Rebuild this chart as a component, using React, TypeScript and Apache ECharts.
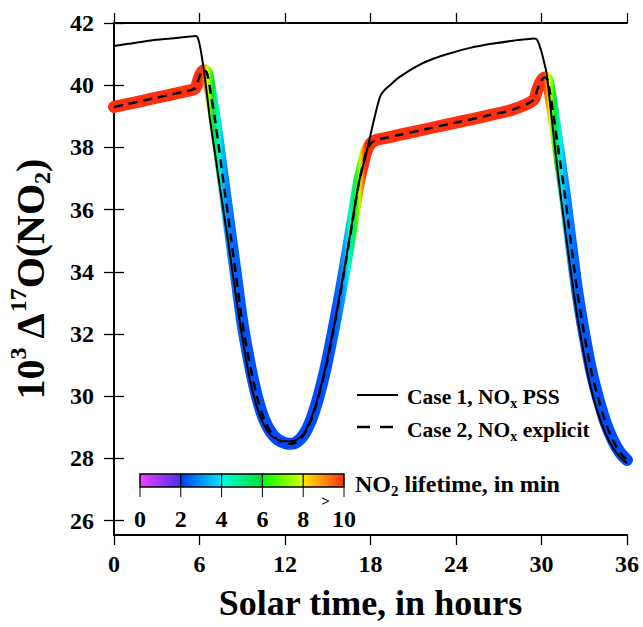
import { useEffect, useRef } from "react";
import * as echarts from "echarts";

// ---- Data ----
const case1Times = [0, 1, 2, 3, 4, 5, 5.5, 5.75, 5.9, 6.04, 6.15, 6.27, 6.46, 6.74, 7.09, 7.5, 8.0, 8.5, 9.0, 9.5, 10.0, 10.5, 11.0, 11.5, 12.0, 12.4, 12.8, 13.3, 13.8, 14.3, 14.8, 15.3, 15.8, 16.3, 16.8, 17.2, 17.47, 17.8, 18.2, 18.67, 19.0, 19.37, 20.0, 21.2, 22.4, 23.6, 25.0, 26.5, 28.0, 29.0, 29.5, 29.7, 29.96, 30.15, 30.36, 30.7, 31.18, 31.5, 32.0, 32.5, 33.0, 33.5, 34.0, 34.5, 35.0, 35.5, 36.0];
const case1Values = [41.26, 41.33, 41.4, 41.46, 41.5, 41.55, 41.57, 41.58, 41.5, 41.24, 40.95, 40.6, 39.95, 38.88, 37.8, 36.5, 35.0, 33.4, 31.9, 30.6, 29.7, 29.1, 28.75, 28.6, 28.55, 28.55, 28.6, 28.8, 29.25, 29.95, 30.85, 31.95, 33.15, 34.45, 35.85, 36.9, 37.4, 38.0, 38.8, 39.63, 39.85, 40.0, 40.25, 40.6, 40.85, 41.03, 41.2, 41.33, 41.43, 41.48, 41.5, 41.45, 41.13, 40.8, 40.38, 39.0, 37.06, 35.9, 34.2, 32.6, 31.3, 30.2, 29.4, 28.8, 28.35, 28.05, 27.85];

const case2Times = [0, 1, 2, 3, 4, 5, 5.7, 5.9, 6.1, 6.35, 6.55, 6.8, 7.09, 7.33, 7.56, 8.0, 8.5, 9.0, 9.5, 10.0, 10.5, 11.0, 11.5, 12.0, 12.4, 12.8, 13.3, 13.8, 14.3, 14.8, 15.3, 15.8, 16.3, 16.8, 17.2, 17.45, 17.7, 18.0, 18.4, 19.0, 20, 22, 24, 26, 28, 29.43, 29.7, 29.95, 30.2, 30.4, 30.6, 30.85, 31.1, 31.35, 31.6, 31.85, 32.1, 32.5, 33.0, 33.5, 34.0, 34.5, 35.0, 35.5, 36.0];
const case2Values = [39.3, 39.4, 39.5, 39.6, 39.7, 39.8, 39.9, 40.15, 40.38, 40.48, 40.35, 39.7, 38.88, 38.1, 37.3, 35.8, 34.1, 32.4, 31.1, 30.05, 29.3, 28.85, 28.6, 28.5, 28.47, 28.52, 28.75, 29.2, 29.9, 30.8, 31.9, 33.1, 34.4, 35.8, 36.9, 37.4, 37.85, 38.12, 38.24, 38.3, 38.4, 38.6, 38.8, 39.0, 39.22, 39.52, 39.85, 40.12, 40.25, 40.2, 39.75, 39.0, 38.2, 37.4, 36.6, 35.7, 34.8, 33.4, 32.0, 30.8, 29.9, 29.15, 28.6, 28.2, 27.95];

// NO2 lifetime (min) along the Case 2 curve
const lifetimeTimes = [0, 5.9, 6.15, 6.35, 6.55, 6.75, 6.95, 7.15, 7.4, 7.65, 8.0, 8.5, 9.5, 12.4, 15.3, 15.8, 16.2, 16.5, 16.8, 17.05, 17.25, 17.45, 17.65, 17.9, 29.9, 30.15, 30.35, 30.55, 30.75, 30.95, 31.15, 31.4, 31.65, 32.0, 32.5, 33.5, 36];
const lifetimeMinutes = [12, 12, 10, 9, 8, 7, 6, 5, 4.2, 3.4, 2.8, 2.4, 2.2, 2.1, 2.2, 2.6, 3.3, 4.2, 5.3, 6.5, 7.8, 9.0, 10, 12, 12, 10, 9, 8, 7, 6, 5, 4.0, 3.3, 2.8, 2.4, 2.2, 2.1];

const xTicks = [0, 6, 12, 18, 24, 30, 36];
const yTicks = [26, 28, 30, 32, 34, 36, 38, 40, 42];
const colorbarTicks = [0, 2, 4, 6, 8, 10];

// colour scale segments: [from, to, colorFrom, colorTo]
const cbSegments: [number, number, string, string][] = [
  [0, 2, "#f040ff", "#4a30f0"],
  [2, 4, "#0040ff", "#00e8ff"],
  [4, 6, "#00ffe0", "#00e030"],
  [6, 8, "#00ff00", "#d8ff00"],
  [8, 10, "#ffe800", "#ff3010"],
];

const FONT = "'Liberation Serif', 'DejaVu Serif', serif";

function hexToRgb(h: string) {
  const n = parseInt(h.slice(1), 16);
  return [(n >> 16) & 255, (n >> 8) & 255, n & 255];
}
function lerpColor(a: string, b: string, f: number) {
  const A = hexToRgb(a);
  const B = hexToRgb(b);
  const c = A.map((v, i) => Math.round(v + (B[i] - v) * f));
  return `rgb(${c[0]},${c[1]},${c[2]})`;
}
function lifeColor(L: number) {
  if (L >= 10) return cbSegments[cbSegments.length - 1][3];
  for (const [a, b, ca, cb] of cbSegments) {
    if (L >= a && L <= b) return lerpColor(ca, cb, (L - a) / (b - a));
  }
  return cbSegments[0][2];
}

export default function App() {
  const ref = useRef<HTMLDivElement>(null);
  useEffect(() => {
    if (!ref.current) return;
    const chart = echarts.init(ref.current, null, { renderer: "svg" });

    const xMin = 0;
    const xMax = 36;
    const lineStops = lifetimeTimes.map((t, i) => ({
      offset: (t - xMin) / (xMax - xMin),
      color: lifeColor(lifetimeMinutes[i]),
    }));
    const cbStops: { offset: number; color: string }[] = [];
    cbSegments.forEach(([a, b, ca, cb]) => {
      cbStops.push({ offset: a / 10, color: ca });
      cbStops.push({ offset: b / 10, color: cb });
    });

    const case1 = case1Times.map((t, i) => [t, case1Values[i]]);
    const case2 = case2Times.map((t, i) => [t, case2Values[i]]);

    // colorbar layout
    const cbX = 140, cbY = 474, cbW = 204, cbH = 13;
    const cbPos = (v: number) => cbX + (v / 10) * cbW;

    const labelStyle = {
      fontFamily: FONT,
      fontWeight: "bold" as const,
      color: "#000",
      fontSize: 24,
    };

    const graphics: any[] = [];
    // colorbar
    graphics.push({
      type: "rect",
      shape: { x: cbX, y: cbY, width: cbW, height: cbH },
      style: {
        fill: new echarts.graphic.LinearGradient(0, 0, 1, 0, cbStops),
        stroke: "#000",
        lineWidth: 1.5,
      },
      z: 10,
    });
    colorbarTicks.forEach((v, i) => {
      const x = cbPos(v);
      if (i > 0 && i < colorbarTicks.length - 1) {
        graphics.push({
          type: "line",
          shape: { x1: x, y1: cbY, x2: x, y2: cbY + cbH },
          style: { stroke: "#000", lineWidth: 1.2 },
          z: 11,
        });
      }
      graphics.push({
        type: "line",
        shape: { x1: x, y1: cbY + cbH, x2: x, y2: cbY + cbH + 10 },
        style: { stroke: "#000", lineWidth: 1 },
        z: 11,
      });
      graphics.push({
        type: "text",
        x,
        y: 519,
        style: {
          text: String(v),
          font: `bold 24px ${FONT}`,
          fill: "#000",
          align: "center",
          verticalAlign: "middle",
        },
        z: 11,
      });
    });
    graphics.push({
      type: "text",
      x: cbPos(9) + 2,
      y: 501,
      style: { text: ">", font: `bold 15px ${FONT}`, fill: "#000", align: "center", verticalAlign: "middle" },
      z: 11,
    });
    graphics.push({
      type: "text",
      x: 355,
      y: 484,
      style: {
        text: "{b|NO}{s|2}{b| lifetime, in min}",
        rich: {
          b: { font: `bold 24px ${FONT}`, fill: "#000", lineHeight: 28 },
          s: { font: `bold 15px ${FONT}`, fill: "#000", verticalAlign: "bottom", lineHeight: 28 },
        },
        verticalAlign: "middle",
      },
      z: 11,
    });
    // legend
    graphics.push({
      type: "line",
      shape: { x1: 357, y1: 395, x2: 398, y2: 395 },
      style: { stroke: "#000", lineWidth: 2 },
      z: 11,
    });
    graphics.push({
      type: "line",
      shape: { x1: 357, y1: 427, x2: 398, y2: 427 },
      style: { stroke: "#000", lineWidth: 2.5, lineDash: [13, 10] },
      z: 11,
    });
    const legRich = {
      b: { font: `bold 21.5px ${FONT}`, fill: "#000", lineHeight: 26 },
      s: { font: `bold 14px ${FONT}`, fill: "#000", verticalAlign: "bottom", lineHeight: 26 },
    };
    graphics.push({
      type: "text",
      x: 407,
      y: 397,
      style: { text: "{b|Case 1, NO}{s|x}{b| PSS}", rich: legRich, verticalAlign: "middle" },
      z: 11,
    });
    graphics.push({
      type: "text",
      x: 407,
      y: 430,
      style: { text: "{b|Case 2, NO}{s|x}{b| explicit}", rich: legRich, verticalAlign: "middle" },
      z: 11,
    });

    const axisLine = { show: true, lineStyle: { color: "#000", width: 2 } };
    const axisTick = { show: true, length: 10, lineStyle: { color: "#000", width: 1.3 } };

    chart.setOption({
      animation: false,
      backgroundColor: "#fff",
      grid: { left: 114, right: 16, top: 23, bottom: 92, containLabel: false, outerBoundsMode: "none" },
      xAxis: [
        {
          type: "value",
          position: "bottom",
          min: xMin,
          max: xMax,
          interval: 6,
          axisLine,
          axisTick: { ...axisTick, customValues: xTicks },
          axisLabel: { ...labelStyle, margin: 17, customValues: xTicks },
          splitLine: { show: false },
          name: "Solar time, in hours",
          nameLocation: "middle",
          nameGap: 50,
          nameTextStyle: { fontFamily: FONT, fontWeight: "bold", fontSize: 36, color: "#000" },
        },
        {
          type: "value",
          position: "top",
          min: xMin,
          max: xMax,
          interval: 6,
          axisLine,
          axisTick: { ...axisTick, customValues: xTicks },
          axisLabel: { show: false },
          splitLine: { show: false },
        },
      ],
      yAxis: [
        {
          type: "value",
          position: "left",
          min: 25.54,
          max: 42,
          axisLine,
          axisTick: { ...axisTick, customValues: yTicks },
          axisLabel: { ...labelStyle, margin: 20, customValues: yTicks },
          splitLine: { show: false },
          name: "{b|10}{sup|3}{b| Δ}{sup|17}{b|O(NO}{sub|2}{b|)}",
          nameLocation: "middle",
          nameRotate: 90,
          nameGap: 60,
          nameTextStyle: {
            fontFamily: FONT,
            fontWeight: "bold",
            fontSize: 40,
            color: "#000",
            rich: {
              b: { fontFamily: FONT, fontWeight: "bold", fontSize: 40, color: "#000", lineHeight: 48 },
              sup: { fontFamily: FONT, fontWeight: "bold", fontSize: 24, color: "#000", verticalAlign: "top", lineHeight: 48 },
              sub: { fontFamily: FONT, fontWeight: "bold", fontSize: 24, color: "#000", verticalAlign: "bottom", lineHeight: 48 },
            },
          },
        },
        {
          type: "value",
          position: "right",
          min: 25.54,
          max: 42,
          axisLine,
          axisTick: { ...axisTick, customValues: yTicks },
          axisLabel: { show: false },
          splitLine: { show: false },
        },
      ],
      graphic: graphics,
      series: [
        {
          type: "line",
          name: "lifetime",
          data: case2,
          showSymbol: false,
          smooth: 0.3,
          lineStyle: {
            width: 12,
            color: new echarts.graphic.LinearGradient(0, 0, 1, 0, lineStops),
            cap: "round",
            join: "round",
          },
          z: 2,
        },
        {
          type: "line",
          name: "Case 1, NOx PSS",
          data: case1,
          showSymbol: false,
          smooth: 0.3,
          lineStyle: { width: 2, color: "#000" },
          z: 3,
        },
        {
          type: "line",
          name: "Case 2, NOx explicit",
          data: case2,
          showSymbol: false,
          smooth: 0.3,
          lineStyle: { width: 2.5, color: "#000", type: [9, 6] },
          z: 4,
        },
      ],
    });
    return () => chart.dispose();
  }, []);
  return (
    <div
      ref={ref}
      style={{ position: "absolute", left: 0, top: 0, width: 643, height: 627 }}
    />
  );
}
